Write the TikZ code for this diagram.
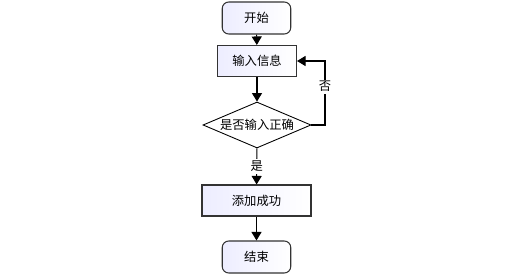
\documentclass[tikz,border=0pt]{standalone}
\usepackage{fontspec}
\setmainfont{Noto Sans CJK SC}
\usetikzlibrary{arrows.meta,shapes.geometric,calc}
\tikzset{se/.style={draw=gray!40!black,line width=.6pt,rounded corners=.13cm,left color=blue!7,right color=white,minimum width=1.37cm,minimum height=.64cm},
 pr/.style={draw=gray!40!black,line width=.6pt,left color=blue!7,right color=white,minimum height=.62cm},
 dc/.style={draw=black,line width=.5pt,fill=white,diamond,aspect=2.35,inner sep=0pt,minimum width=2.16cm,minimum height=.92cm},
 flow/.style={-{Triangle[width=.2cm,length=.17cm]},line width=.6pt},lab/.style={fill=white,inner sep=1pt}}

\begin{document}
\begin{tikzpicture}[x=1cm,y=1cm,font=\fontsize{7}{8}\selectfont]
\useasboundingbox (0,0) rectangle (10.24,-5.58);
\node[se](s) at (5.13,-.36){开始};
\node[pr,minimum width=1.58cm](in) at (5.14,-1.22){输入信息};
\node[dc](chk) at (5.14,-2.5){是否输入正确};
\node[pr,minimum width=2.18cm](ok) at (5.13,-4.01){添加成功};
\node[se](e) at (5.13,-5.14){结束};
\coordinate (c1) at (6.5,-2.5);\coordinate (c2) at (6.5,-1.22);
\draw[flow](s)--(in);\draw[flow](in)--(chk);
\draw[flow](chk)--node[lab,pos=.5]{是}(ok);\draw[flow](ok)--(e);
\draw[flow](chk.east)--(c1)--node[lab,pos=.6]{否}(c2)--(in.east);
\end{tikzpicture}
\end{document}
